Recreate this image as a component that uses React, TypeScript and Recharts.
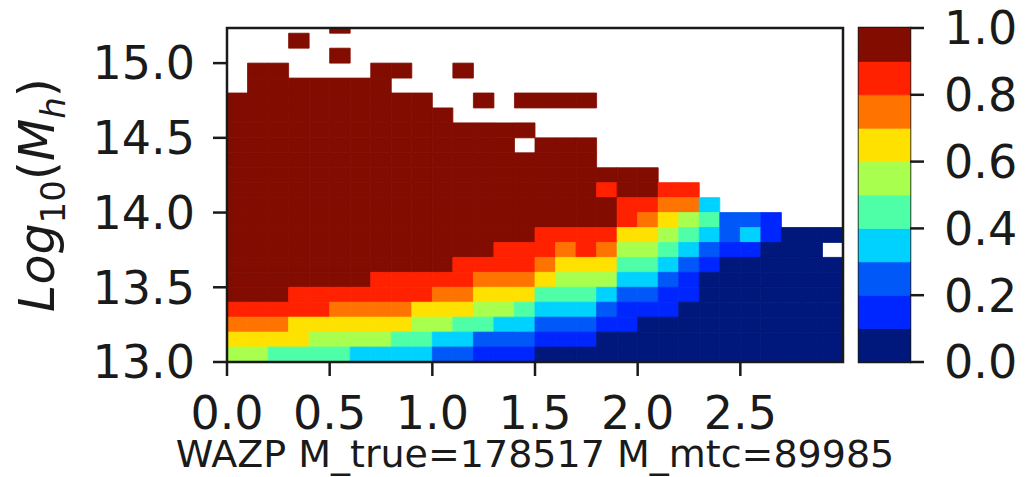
import { Bar, BarChart, ComposedChart, ReferenceArea, XAxis, YAxis } from "recharts";

// bin edges of the 2D histogram (x: redshift-like axis, y: log halo mass)
const X_EDGES = [
  0.0, 0.1, 0.2, 0.3, 0.4, 0.5, 0.6, 0.7, 0.8, 0.9, 1.0, 1.1, 1.2, 1.3, 1.4, 1.5,
  1.6, 1.7, 1.8, 1.9, 2.0, 2.1, 2.2, 2.3, 2.4, 2.5, 2.6, 2.7, 2.8, 2.9, 3.0,
];
const Y_EDGES = [
  13.0, 13.1, 13.2, 13.3, 13.4, 13.5, 13.6, 13.7, 13.8, 13.9, 14.0, 14.1, 14.2,
  14.3, 14.4, 14.5, 14.6, 14.7, 14.8, 14.9, 15.0, 15.1, 15.2, 15.3,
];
const Y_TOP = 15.235;

// completeness per cell, one digit = bin of 0.1 (0 -> [0,0.1) ... 9 -> [0.9,1.0]), "." = no data
// rows listed from the top (15.2-15.3) down to the bottom (13.0-13.1)
const COMPLETENESS_ROWS = [
  ".....9........................",
  "...9..........................",
  ".....9........................",
  ".99....99..9..................",
  ".9999999......................",
  "9999999999..9.9999............",
  "99999999999...................",
  "999999999999999...............",
  "99999999999999.999............",
  "999999999999999999............",
  "999999999999999999999.........",
  "99999999999999999989988.......",
  "999999999999999999988773......",
  "999999999999999999987654221...",
  "999999999999999888866543231000",
  "99999999999998887875543211000.",
  "999999999998888766644321000000",
  "999999988888777655533210000000",
  "999888888877666444322110000000",
  "888887777666554333211100000000",
  "777666666554433222110000000000",
  "666655554433222111000000000000",
  "554444333322111000000000000000",
];

const X_TICKS = [0, 0.5, 1, 1.5, 2, 2.5];
const Y_TICKS = [13, 13.5, 14, 14.5, 15];
const CB_BOUNDS = [0, 0.1, 0.2, 0.3, 0.4, 0.5, 0.6, 0.7, 0.8, 0.9, 1.0];
const CB_TICKS = [0, 0.2, 0.4, 0.6, 0.8, 1.0];

const LEVEL_COLORS = [
  "#00177c",
  "#0026ff",
  "#0058f8",
  "#00d2ff",
  "#4effa8",
  "#a8ff4e",
  "#ffe100",
  "#ff7400",
  "#ff2100",
  "#820c00",
];

const ink = "#1a1a1a";
const font = "DejaVu Sans";
const tickStyle = { fill: ink, fontSize: 46, fontFamily: font };

const cells: { x1: number; x2: number; y1: number; y2: number; level: number }[] = [];
COMPLETENESS_ROWS.forEach((row, r) => {
  const j = COMPLETENESS_ROWS.length - 1 - r;
  row.split("").forEach((c, i) => {
    if (c === ".") return;
    cells.push({
      x1: X_EDGES[i],
      x2: X_EDGES[i + 1],
      y1: Y_EDGES[j],
      y2: Math.min(Y_EDGES[j + 1], Y_TOP),
      level: Number(c),
    });
  });
});

// one stacked column for the colour bar, a segment per level
const cbRow: Record<string, number | string> = { name: "cb" };
LEVEL_COLORS.forEach((_, k) => {
  cbRow[`b${k}`] = CB_BOUNDS[k + 1] - CB_BOUNDS[k];
});
const cbData = [cbRow];

const yLabel = () => (
  <text
    transform="translate(54,195) rotate(-90)"
    textAnchor="middle"
    fontFamily={font}
    fontSize={49}
    fill={ink}
  >
    <tspan fontStyle="italic">Log</tspan>
    <tspan fontSize={34} dy={11}>10</tspan>
    <tspan dy={-11}>(</tspan>
    <tspan fontStyle="italic">M</tspan>
    <tspan fontStyle="italic" fontSize={34} dy={11}>h</tspan>
    <tspan dy={-11}>)</tspan>
  </text>
);

const xLabel = () => (
  <text x={535} y={467} textAnchor="middle" fontFamily={font} fontSize={38} fill={ink}>
    WAZP M_true=178517 M_mtc=89985
  </text>
);

function Heatmap() {
  return (
    <ComposedChart width={1033} height={477} margin={{ top: 28, right: 190, bottom: 0, left: 0 }}>
      <XAxis
        type="number"
        dataKey="x"
        domain={[0, 3]}
        ticks={X_TICKS}
        interval={0}
        allowDataOverflow
        height={115}
        axisLine={false}
        tickLine={{ stroke: ink, strokeWidth: 2.5 }}
        tickSize={14}
        tickMargin={20}
        tick={tickStyle}
        tickFormatter={(v: number) => v.toFixed(1)}
        label={xLabel}
      />
      <YAxis
        type="number"
        dataKey="y"
        domain={[13, Y_TOP]}
        ticks={Y_TICKS}
        interval={0}
        allowDataOverflow
        width={227}
        axisLine={false}
        tickLine={{ stroke: ink, strokeWidth: 2.5 }}
        tickSize={14}
        tickMargin={18}
        tick={tickStyle}
        tickFormatter={(v: number) => v.toFixed(1)}
        label={yLabel}
      />
      {cells.map((c, k) => (
        <ReferenceArea
          key={k}
          x1={c.x1}
          x2={c.x2}
          y1={c.y1}
          y2={c.y2}
          fill={LEVEL_COLORS[c.level]}
          fillOpacity={1}
          stroke={LEVEL_COLORS[c.level]}
          strokeWidth={0.8}
          ifOverflow="visible"
        />
      ))}
      <ReferenceArea
        x1={0}
        x2={3}
        y1={13}
        y2={Y_TOP}
        fill="none"
        stroke={ink}
        strokeWidth={2.5}
        ifOverflow="visible"
      />
    </ComposedChart>
  );
}

function ColorBar() {
  return (
    <BarChart
      width={183}
      height={477}
      data={cbData}
      margin={{ top: 28, right: 0, bottom: 0, left: 9 }}
      barCategoryGap={0}
      barGap={0}
    >
      <XAxis dataKey="name" height={115} tick={false} axisLine={false} tickLine={false} />
      <YAxis
        type="number"
        orientation="right"
        domain={[0, 1]}
        ticks={CB_TICKS}
        interval={0}
        allowDataOverflow
        width={123}
        axisLine={false}
        tickLine={{ stroke: ink, strokeWidth: 2.5 }}
        tickSize={14}
        tickMargin={20}
        tick={tickStyle}
        tickFormatter={(v: number) => v.toFixed(1)}
      />
      {LEVEL_COLORS.map((col, k) => (
        <Bar
          key={k}
          dataKey={`b${k}`}
          stackId="cb"
          fill={col}
          stroke={col}
          strokeWidth={0.8}
          isAnimationActive={false}
        />
      ))}
      <ReferenceArea
        x1="cb"
        x2="cb"
        y1={0}
        y2={1}
        fill="none"
        stroke={ink}
        strokeWidth={2.5}
        ifOverflow="visible"
      />
    </BarChart>
  );
}

export default function App() {
  return (
    <div
      style={{
        position: "absolute",
        left: 0,
        top: 0,
        width: 1033,
        height: 477,
        background: "#fff",
        overflow: "hidden",
      }}
    >
      <div style={{ position: "absolute", left: 0, top: 0 }}>
        <Heatmap />
      </div>
      <div style={{ position: "absolute", left: 850, top: 0 }}>
        <ColorBar />
      </div>
    </div>
  );
}
